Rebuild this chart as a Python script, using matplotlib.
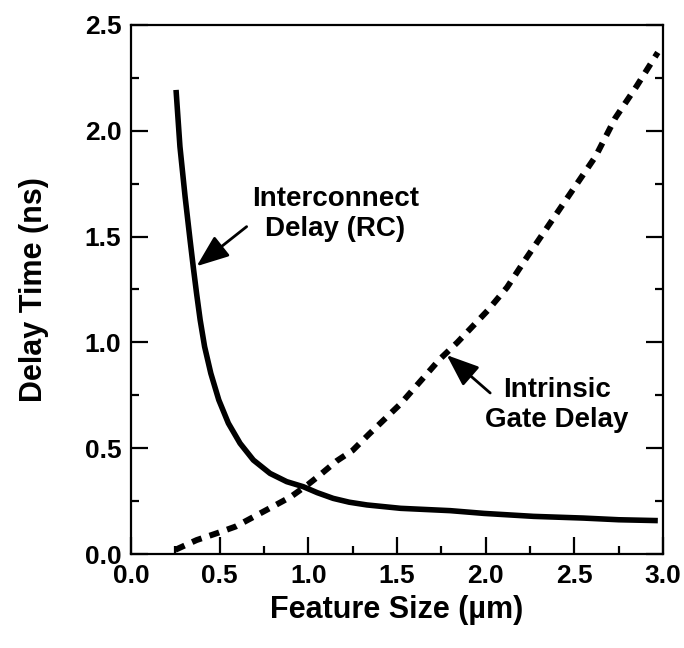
import numpy as np
import matplotlib.pyplot as plt

plt.rcParams['font.family'] = ['Liberation Sans', 'DejaVu Sans']

# Interconnect delay (RC), solid curve
rc_x = [0.254, 0.276, 0.305, 0.333, 0.352, 0.370, 0.390, 0.415, 0.450, 0.495,
        0.549, 0.615, 0.690, 0.784, 0.878, 0.972, 1.05, 1.14, 1.23, 1.33,
        1.52, 1.80, 1.99, 2.27, 2.55, 2.75, 2.97]
rc_y = [2.193, 1.925, 1.689, 1.484, 1.35, 1.23, 1.106, 0.980, 0.854, 0.728,
        0.618, 0.523, 0.444, 0.381, 0.342, 0.318, 0.29, 0.263, 0.245, 0.232,
        0.216, 0.205, 0.192, 0.178, 0.170, 0.162, 0.158]

# Intrinsic gate delay, dashed curve
gate_x = [0.25, 0.37, 0.49, 0.59, 0.69, 0.79, 0.90, 1.00, 1.06, 1.16, 1.25,
          1.34, 1.52, 1.74, 1.84, 2.01, 2.12, 2.23, 2.49, 2.62, 2.73, 2.85, 2.97]
gate_y = [0.02, 0.066, 0.10, 0.13, 0.175, 0.22, 0.27, 0.33, 0.37, 0.44, 0.49,
          0.565, 0.71, 0.92, 1.00, 1.15, 1.26, 1.40, 1.72, 1.88, 2.06, 2.21, 2.37]

x_ticks = [0.0, 0.5, 1.0, 1.5, 2.0, 2.5, 3.0]
y_ticks = [0.0, 0.5, 1.0, 1.5, 2.0, 2.5]

fig = plt.figure(figsize=(6.84, 6.48), dpi=100)
ax = fig.add_axes([0.1915, 0.145, 0.778, 0.8165])

ax.plot(rc_x, rc_y, color='black', lw=4, solid_capstyle='butt', solid_joinstyle='round')
ax.plot(gate_x, gate_y, color='black', lw=4.3, dashes=(1.7, 1.4), dash_capstyle='butt')

ax.set_xlim(0, 3)
ax.set_ylim(0, 2.5)
ax.set_xticks(x_ticks)
ax.set_yticks(y_ticks)
ax.set_xticks(np.arange(0.25, 3, 0.5), minor=True)
ax.set_yticks(np.arange(0.25, 2.5, 0.5), minor=True)
ax.set_xticklabels(['%.1f' % v for v in x_ticks])
ax.set_yticklabels(['%.1f' % v for v in y_ticks])
ax.tick_params(which='both', direction='in', top=False, right=True, width=1.6,
               labelsize=19, pad=7)
ax.tick_params(which='major', length=12)
ax.tick_params(which='minor', length=6)
for lab in ax.get_xticklabels() + ax.get_yticklabels():
    lab.set_fontweight('bold')
for s in ax.spines.values():
    s.set_linewidth(1.6)

ax.set_xlabel('Feature Size (µm)', fontsize=22, fontweight='bold')
ax.set_ylabel('Delay Time (ns)', fontsize=22, fontweight='bold')
ax.xaxis.set_label_coords(0.5, -0.078)
ax.yaxis.set_label_coords(-0.155, 0.5)

arrow = dict(arrowstyle='-|>,head_length=0.9,head_width=0.35', color='black',
             lw=2, mutation_scale=22, shrinkA=0, shrinkB=0)
ax.text(1.153, 1.607, 'Interconnect\nDelay (RC)', fontsize=20, fontweight='bold',
        ha='center', va='center')
ax.annotate('', xy=(0.37, 1.36), xytext=(0.652, 1.547), arrowprops=arrow)
ax.text(2.40, 0.704, 'Intrinsic\nGate Delay', fontsize=20, fontweight='bold',
        ha='center', va='center')
ax.annotate('', xy=(1.78, 0.94), xytext=(2.025, 0.761), arrowprops=arrow)

fig.savefig('out.png', dpi=100)
